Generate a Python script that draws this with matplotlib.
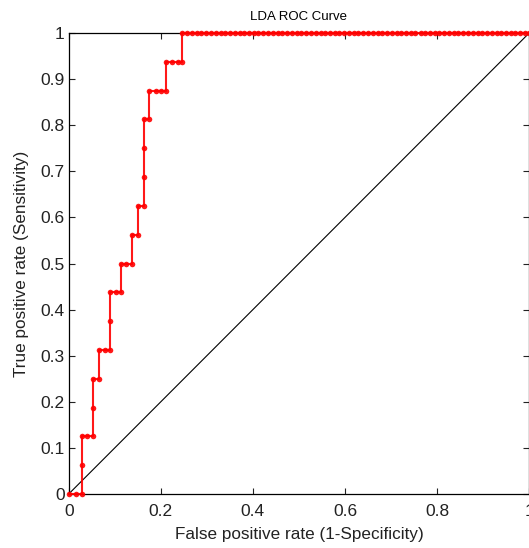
import matplotlib.pyplot as plt

# ROC points of the LDA classifier (false positive rate, true positive rate)
fpr = [0.0, 0.0152, 0.0286, 0.0286, 0.0286, 0.0404, 0.0528, 0.0528, 0.0528,
       0.0648, 0.0648, 0.0778, 0.0902, 0.0902, 0.0902, 0.102, 0.1137, 0.1137,
       0.125, 0.1376, 0.1376, 0.151, 0.151, 0.1637, 0.1637, 0.1637, 0.1637,
       0.175, 0.175, 0.189, 0.201, 0.2115, 0.2115, 0.224, 0.237, 0.247, 0.247,
       0.257, 0.268, 0.278, 0.288, 0.299, 0.309, 0.319, 0.330, 0.340, 0.350,
       0.361, 0.371, 0.381, 0.392, 0.402, 0.412, 0.423, 0.433, 0.443, 0.454,
       0.464, 0.474, 0.485, 0.495, 0.505, 0.516, 0.526, 0.536, 0.547, 0.557,
       0.567, 0.578, 0.588, 0.598, 0.609, 0.619, 0.629, 0.640, 0.650, 0.660,
       0.671, 0.681, 0.691, 0.702, 0.712, 0.722, 0.733, 0.743, 0.753, 0.764,
       0.774, 0.784, 0.795, 0.805, 0.815, 0.826, 0.836, 0.846, 0.857, 0.867,
       0.877, 0.888, 0.898, 0.908, 0.919, 0.929, 0.939, 0.950, 0.960, 0.970,
       0.981, 0.991, 1.0]
tpr = [0.0, 0.0, 0.0, 0.0625, 0.125, 0.125, 0.125, 0.1875, 0.25,
       0.25, 0.3125, 0.3125, 0.3125, 0.375, 0.4375, 0.4375, 0.4375, 0.5,
       0.5, 0.5, 0.5625, 0.5625, 0.625, 0.625, 0.6875, 0.75, 0.8125,
       0.8125, 0.875, 0.875, 0.875, 0.875, 0.9375, 0.9375, 0.9375, 0.9375, 1.0]
tpr = tpr + [1.0] * (len(fpr) - len(tpr))

chance = [0, 1]
xticks = [0, 0.2, 0.4, 0.6, 0.8, 1]
yticks = [0, 0.1, 0.2, 0.3, 0.4, 0.5, 0.6, 0.7, 0.8, 0.9, 1]

plt.rcParams['font.family'] = ['Liberation Sans', 'DejaVu Sans']

fig = plt.figure(figsize=(5.29, 5.48), dpi=100)
ax = fig.add_axes([68.7 / 529, 54 / 548, 460.5 / 529, 461 / 548])

ax.plot(chance, chance, color='black', linewidth=0.8)
ax.plot(fpr, tpr, color='red', linewidth=1.5, marker='o', markersize=4,
        markeredgewidth=0, alpha=0.9, clip_on=False, zorder=5)

ax.set_xlim(0, 1)
ax.set_ylim(0, 1)
ax.set_xticks(xticks)
ax.set_yticks(yticks)
ax.set_xticklabels(['0', '0.2', '0.4', '0.6', '0.8', '1'])
ax.set_yticklabels(['0', '0.1', '0.2', '0.3', '0.4', '0.5', '0.6', '0.7', '0.8', '0.9', '1'])
ax.tick_params(direction='in', length=4, width=0.8, top=True, right=True,
               labelsize=12.5, colors='#222222')
ax.tick_params(axis='x', pad=7)
ax.tick_params(axis='y', pad=3)
for s in ax.spines.values():
    s.set_linewidth(0.9)

ax.set_title('LDA ROC Curve', fontsize=9.5, pad=9)
ax.set_xlabel('False positive rate (1-Specificity)', fontsize=12.3, labelpad=6,
              color='#222222')
ax.set_ylabel('True positive rate (Sensitivity)', fontsize=12.3, labelpad=8,
              color='#222222')

fig.savefig('out.png', dpi=100)
